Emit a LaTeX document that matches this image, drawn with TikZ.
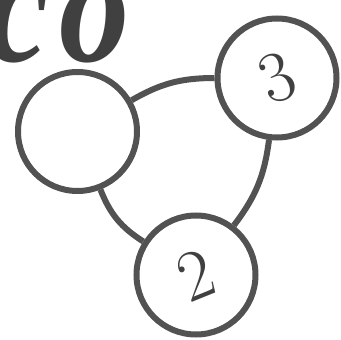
\documentclass[tikz,border=0pt]{standalone}
\usepackage{fontspec}
\usepackage{tikz}
\usetikzlibrary{positioning}
\newfontfamily\wordfont{Liberation Serif}

\begin{document}
\begin{tikzpicture}[x=1pt,y=-1pt,
  vtx/.style={circle,draw=black!68,line width=6pt,minimum size=119pt,inner sep=0pt,
    font=\fontsize{72}{72}\selectfont,text=black!75},
  edg/.style={draw=black!68,line width=6pt}]
\useasboundingbox (0,0) rectangle (341,340);
\clip (0,0) rectangle (341,340);
% word fragment cut off at the top
\node[anchor=base east,inner sep=0pt,xscale=0.85,text=black!75,
  font=\wordfont\fontsize{165}{165}\selectfont\bfseries\itshape] (word) at (130,62) {c\kern12pt o};
\node[vtx] (a) at (77.5,131.5) {};
\node[vtx] (c) at (277,78) {\rotatebox{22}{3}};
\node[vtx] (b) at (196,275) {\rotatebox{22}{2}};
\draw[edg] (a) to[bend left=15] (c);
\draw[edg] (c) to[bend left=15] (b);
\draw[edg] (a) to[bend right=18] (b);
\end{tikzpicture}
\end{document}
